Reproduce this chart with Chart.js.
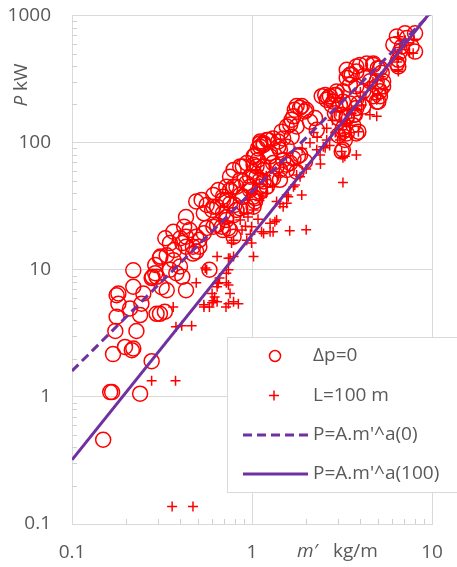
<!DOCTYPE html>
<html><head><meta charset="utf-8">
<script src="https://cdn.jsdelivr.net/npm/chart.js@4/dist/chart.umd.min.js"></script>
<style>html,body{margin:0;padding:0;background:#fff;}#wrap{width:457px;height:567px;position:relative}</style>
</head><body><div id="wrap"><canvas id="c" width="457" height="567"></canvas></div>
<script>
// Δp=0 series: [m' kg/m, P kW]
const circlePts = [
[0.149,0.46],[0.163,1.09],[0.167,1.09],[0.239,1.06],[0.277,1.91],[0.169,2.17],[0.197,2.47],[0.219,2.40],[0.215,2.33],[0.228,3.3],[0.174,3.3],[0.177,4.27],[0.181,5.4],[0.177,6.3],[0.21,4.96],[0.239,4.4],[0.243,5.4],[0.295,4.5],[0.308,4.5],[0.328,4.67],[0.219,7.35],[0.181,6.5],[0.219,9.9],[0.249,6.5],[0.277,8.6],[0.308,12.4],
[0.295,8.8],[0.315,7.3],[0.336,6.9],[0.29,9.4],[0.336,13],[0.366,11.9],[0.35,10],[0.38,9.4],[0.41,8.8],[0.43,6.9],[0.33,17.7],[0.366,19.9],[0.40,17.7],[0.43,18.2],[0.45,20.5],[0.42,21.8],[0.47,15.2],[0.49,13.9],[0.51,17.2],[0.54,19.4],[0.56,21.3],[0.58,10],
[0.49,34.4],[0.525,35.4],[0.56,32.3],[0.61,38.7],[0.65,42.4],[0.60,29.5],[0.64,31.3],[0.69,35.4],[0.72,24.6],[0.79,26.9],[0.80,32.3],[0.755,42.4],[0.82,45],[0.86,50.9],[0.89,37.6],[0.93,48],[0.975,54],[1.02,59],[1.06,65],[1.08,73],[0.975,42.4],[1.04,36.5],[1.11,51],[1.02,31.3],[0.86,30.4],[0.74,21.2],[0.68,21.8],[0.64,22.5],[0.37,14.3],[0.41,16.2],[0.35,16.2],[0.29,10.9],
[0.43,26],[0.31,12.7],[0.398,10.6],[0.28,8.8],[0.49,18.2],[0.61,21.8],[0.69,20.5],[0.72,26],[0.61,31.3],[0.54,27.8],[0.47,13.4],[0.51,15.2],[0.43,15.2],
[3.02,114],[3.2,130],[3.36,156],[3.15,166],[2.89,170],[2.77,198],[2.65,225],[2.55,237],[2.44,232],[3.2,210],[2.95,252],[3.36,323],[3.36,374],[2.29,126],[2.1,146],[2.24,156],[1.97,176],[1.85,188],[1.77,194],[1.7,161],[1.63,139],[1.66,151],[1.56,134],[1.46,122],[1.40,102],[1.31,108],[1.23,105],[1.16,96],[1.11,102],[1.08,90],[1.04,80],[1.02,67],[1.16,49.5],[1.11,41],[1.04,34.4],[1.21,45],[1.31,52.5],[1.43,61],[1.56,67],[1.70,75],[1.85,80],[1.97,71],[1.77,59],[3.15,85],
[1.73,181],[1.89,194],[2.0,181],[2.71,232],[2.89,237],[2.6,217],[3.58,342],[3.8,397],[4.34,420],[4.72,408],[5.0,385],[5.26,355],[5.35,304],[4.93,277],[5.14,232],[4.93,210],[3.28,105],[3.2,122],[3.8,118],[3.02,156],[3.36,161],[3.73,166],[3.9,203],[6.5,448],[6.64,520],[1.8,78],[1.56,93],[1.43,88],[1.16,99],[1.11,93],[1.26,78],[1.37,65],[1.63,69],[1.02,78],[0.89,65],[0.79,45],[0.72,35.4],[0.69,27.8],[0.755,20.5],[0.79,18.2],[0.86,38.7],[0.975,45],[1.16,61],
[6.38,685],[7.08,724],[8.05,724],[6.1,590],[6.8,570],[7.7,570],[8.05,520],[6.38,420],[6.5,397],[7.25,665],
[3.98,408],[4.72,420],[5.14,385],[3.8,362],[3.5,342],[4.15,333],[4.52,304],[4.93,304],[5.35,277],[5.14,254],[4.72,232],[5.03,210],[4.15,254],[3.8,277],[3.5,285],[3.2,254],[2.93,237],[2.83,210],[3.08,198],[3.5,203],[3.8,187],[4.15,192],[3.68,166],[3.65,137],[3.36,118],[3.9,122],[3.2,88],
[1.77,134],[1.66,111],[1.49,108],[1.21,105],[1.11,99],[1.40,93],[1.26,83],[0.935,69],[0.86,65],[0.79,61],[0.755,54],[0.72,45],[0.69,37.6],[0.755,33],[0.82,29.5],[0.89,37.6],[1.06,54],[1.16,65],[1.31,69],[1.49,73],[1.56,61],[1.43,51],[1.26,51],[1.11,45],[1.02,37.6],[0.935,31.3]
];
// L=100 m series: [m' kg/m, P kW]
const plusPts = [
[0.36,0.137],[0.47,0.137],[0.277,1.34],[0.376,1.34],[0.378,3.56],[0.407,3.62],[0.462,3.62],[0.365,5.1],[0.541,5.1],[0.60,5.5],[0.61,5.7],[0.717,5.1],[0.49,7.9],[0.64,7.9],[0.72,7.9],[0.60,6.5],
[1.02,12.7],[0.995,16.2],[0.935,17.1],[0.79,17.1],[0.77,16.2],[0.64,12.7],[0.755,12.3],[0.55,10.3],[0.66,8.6],[0.74,7.6],[0.64,7.35],[0.755,6.5],[0.64,5.6],[0.74,5.4],[0.84,5.4],[0.58,5.1],[0.88,20.5],[0.995,21.8],
[0.74,12.3],[0.56,10],[0.74,10],[0.65,7.8],[0.62,6.1],[0.79,5.6],[0.54,5.3],
[1.62,20.3],[2.0,20.6],[1.89,38.7],[1.56,38.7],[1.56,33.3],[1.34,23.9],[1.13,19.9],[1.26,19.9],[0.79,12.7],[0.72,9.4],[3.2,48.5],[3.8,80],[3.28,78],[4.93,161],[4.93,217],[6.5,374],[7.86,505],[6.6,560],[7.5,510],[7.1,640],
[3.2,76],[3.15,85],[2.39,80],[2.55,91],[1.37,34.4],
[4.52,166],[3.9,122],[3.28,111],[5.0,237],[6.5,464],[6.5,362],[7.25,610],[4.15,225],[4.07,198],[3.73,181],[3.43,166],[3.15,146],[3.2,126],[3.08,105],[3.5,137],[2.93,176],
[1.31,19.9],[1.26,23.2],[1.16,19.3],[1.37,24.6],[1.49,31.3],[1.59,37.6],[1.73,46.4],[1.77,55.7],[1.43,33],[0.95,26],[1.02,29.5],[0.86,24.6],
[2.29,88],[2.49,93],[1.85,54],[1.7,45],[3.02,126],[3.36,142],[3.58,170],[3.8,194],
[2.1,100],[2.3,110],[1.9,90],[2.6,130],[2.8,150],[2.2,120],[1.2,40],[1.3,45],[1.4,55],[1.1,35],[0.9,28],[2.0,62],[2.6,105],[4.4,280],[4.7,300],[5.2,330],[4.0,250],[5.5,260],
[6.5,680],[7.9,650],[6.8,540],[6.4,430],
[1.0,40],[1.1,48],[1.2,55],[1.05,60],[1.15,38],[0.92,22],[1.08,25],[0.98,19],[2.4,68],[2.7,95],[2.9,120]
];
// Fitted power-law lines (endpoints)
const fitM = [0.1, 10];
const fit0P = [1.6, 1060];
const fit100P = [0.32, 1100];
// Axis ticks
const xTicks = [0.1, 1, 10];
const yTicks = [0.1, 1, 10, 100, 1000];
const legendLabels = ['Δp=0', 'L=100 m', "P=A.m'^a(0)", "P=A.m'^a(100)"];

const RED = '#ff0000', PURPLE = '#7030a0', GRID = '#d9d9d9', TXT = '#595959';
const FONT = "'Open Sans', sans-serif";

const toXY = pts => pts.map(p => ({x: p[0], y: p[1]}));
const lineXY = ys => fitM.map((m, i) => ({x: m, y: ys[i]}));

const extras = {
  id: 'extras',
  afterDraw(chart) {
    const ctx = chart.ctx, xs = chart.scales.x, ys = chart.scales.y, a = chart.chartArea;
    ctx.save();
    // inward minor ticks
    ctx.strokeStyle = '#d0d0d0'; ctx.lineWidth = 1;
    ctx.beginPath();
    for (let i = 0; i < yTicks.length - 1; i++) {
      for (let k = 2; k <= 9; k++) {
        const py = Math.round(ys.getPixelForValue(yTicks[i] * k)) + 0.5;
        ctx.moveTo(a.left, py); ctx.lineTo(a.left + 5, py);
      }
    }
    for (let i = 0; i < xTicks.length - 1; i++) {
      for (let k = 2; k <= 9; k++) {
        const px = Math.round(xs.getPixelForValue(xTicks[i] * k)) + 0.5;
        ctx.moveTo(px, a.bottom); ctx.lineTo(px, a.bottom - 5);
      }
    }
    ctx.stroke();
    // axis titles
    ctx.fillStyle = TXT; ctx.textBaseline = 'middle';
    ctx.save();
    ctx.translate(22, 85); ctx.rotate(-Math.PI / 2);
    ctx.font = 'italic 19px ' + FONT;
    const wP = ctx.measureText('P').width;
    ctx.font = '19px ' + FONT;
    const wK = ctx.measureText(' kW').width;
    const x0 = -(wP + wK) / 2;
    ctx.textAlign = 'left';
    ctx.font = 'italic 19px ' + FONT; ctx.fillText('P', x0, 0);
    ctx.font = '19px ' + FONT; ctx.fillText(' kW', x0 + wP, 0);
    ctx.restore();
    ctx.textAlign = 'left';
    ctx.font = 'italic 19px ' + FONT; ctx.fillText('m′', 297, 552);
    ctx.font = '19px ' + FONT; ctx.fillText('kg/m', 333, 552);
    // legend box
    ctx.fillStyle = '#ffffff'; ctx.strokeStyle = GRID; ctx.lineWidth = 1;
    ctx.fillRect(227.5, 337.5, 240, 155);
    ctx.strokeRect(227.5, 337.5, 240, 155);
    const rows = [356, 395.5, 435, 474];
    ctx.strokeStyle = RED; ctx.lineWidth = 1.5;
    ctx.beginPath(); ctx.arc(275, rows[0], 5.5, 0, Math.PI * 2); ctx.stroke();
    ctx.beginPath();
    ctx.moveTo(269, rows[1]); ctx.lineTo(279, rows[1]);
    ctx.moveTo(274, rows[1] - 5); ctx.lineTo(274, rows[1] + 5);
    ctx.stroke();
    ctx.strokeStyle = PURPLE; ctx.lineWidth = 3;
    ctx.setLineDash([9, 5]);
    ctx.beginPath(); ctx.moveTo(243, rows[2]); ctx.lineTo(308, rows[2]); ctx.stroke();
    ctx.setLineDash([]);
    ctx.beginPath(); ctx.moveTo(243, rows[3]); ctx.lineTo(308, rows[3]); ctx.stroke();
    ctx.fillStyle = TXT; ctx.font = '19px ' + FONT; ctx.textBaseline = 'middle';
    legendLabels.forEach((t, i) => ctx.fillText(t, 313, rows[i]));
    ctx.restore();
  }
};

new Chart(document.getElementById('c'), {
  type: 'scatter',
  data: {
    datasets: [
      {label: legendLabels[3], type: 'line', data: lineXY(fit100P), borderColor: PURPLE, borderWidth: 3, pointRadius: 0, fill: false, order: 0},
      {label: legendLabels[2], type: 'line', data: lineXY(fit0P), borderColor: PURPLE, borderWidth: 3, borderDash: [9, 5], pointRadius: 0, fill: false, order: 1},
      {label: legendLabels[1], data: toXY(plusPts), pointStyle: 'cross', pointRadius: 5, borderColor: RED, backgroundColor: RED, pointBorderWidth: 1.5, order: 2},
      {label: legendLabels[0], data: toXY(circlePts), pointStyle: 'circle', pointRadius: 7.5, borderColor: RED, backgroundColor: 'rgba(0,0,0,0)', pointBorderWidth: 1.5, order: 3}
    ]
  },
  options: {
    responsive: false, animation: false, devicePixelRatio: 1,
    layout: {padding: {left: 0, top: 15.5, right: 25, bottom: 0}},
    plugins: {legend: {display: false}, tooltip: {enabled: false}},
    scales: {
      x: {
        type: 'logarithmic', min: 0.1, max: 10, position: 'bottom',
        afterBuildTicks: s => { s.ticks = xTicks.map(v => ({value: v})); },
        afterFit: s => { s.height = 43; s.paddingLeft = 0; s.paddingRight = 0; },
        ticks: {autoSkip: false, maxRotation: 0, padding: 17, color: TXT, font: {family: FONT, size: 19},
          callback: v => String(v)},
        grid: {color: GRID, drawTicks: false, lineWidth: 1},
        border: {color: GRID}
      },
      y: {
        type: 'logarithmic', min: 0.1, max: 1000,
        afterBuildTicks: s => { s.ticks = yTicks.map(v => ({value: v})); },
        afterFit: s => { s.width = 72; s.paddingTop = 0; s.paddingBottom = 0; },
        ticks: {autoSkip: false, padding: 21, color: TXT, font: {family: FONT, size: 19},
          callback: v => String(v)},
        grid: {color: GRID, drawTicks: false, lineWidth: 1},
        border: {color: GRID}
      }
    }
  },
  plugins: [extras]
});
</script>
</body></html>
